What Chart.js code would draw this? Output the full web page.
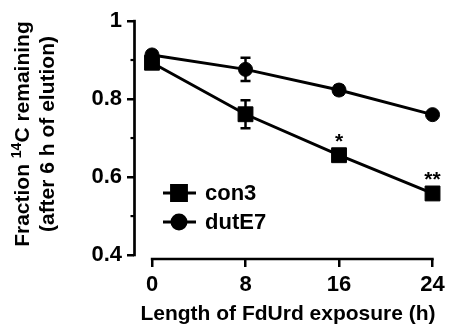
<!DOCTYPE html>
<html>
<head>
<meta charset="utf-8">
<script src="https://cdn.jsdelivr.net/npm/chart.js@4.4.1/dist/chart.umd.min.js"></script>
<style>
  html, body { margin: 0; padding: 0; background: #fff; }
</style>
</head>
<body>
<canvas id="fracChart" width="461" height="330"></canvas>
<script>
// values
const hours = [0, 8, 16, 24];
const con3 = [0.893, 0.761, 0.656, 0.558];
const con3Err = [0.01, 0.036, 0.012, 0.01];
const dutE7 = [0.913, 0.876, 0.823, 0.76];
const dutE7Err = [0.008, 0.03, 0.012, 0.008];
const con3Marks = ['', '', '*', '**'];
const seriesNames = ['con3', 'dutE7'];
const xTicks = [0, 8, 16, 24];
const yTicks = [0.4, 0.6, 0.8, 1];
const yMinorTicks = [0.5, 0.7, 0.9];

const FONT = '"Liberation Sans", Arial, Helvetica, sans-serif';
const errors = [con3Err, dutE7Err];

function toPoints(ys) {
    return hours.map((h, i) => ({ x: h, y: ys[i] }));
}

// axis lines, minor ticks, y title, legend, error bars, asterisks
const extrasPlugin = {
    id: 'extras',
    beforeDatasetsDraw(chart) {
        const ctx = chart.ctx;
        const ys = chart.scales.y;
        ctx.save();
        ctx.strokeStyle = '#000';
        ctx.lineWidth = 2.5;
        chart.data.datasets.forEach((ds, di) => {
            const meta = chart.getDatasetMeta(di);
            meta.data.forEach((pt, i) => {
                const v = ds.data[i].y, e = errors[di][i];
                const y1 = ys.getPixelForValue(v + e), y2 = ys.getPixelForValue(v - e);
                ctx.beginPath();
                ctx.moveTo(pt.x, y1); ctx.lineTo(pt.x, y2);
                ctx.moveTo(pt.x - 5, y1); ctx.lineTo(pt.x + 5, y1);
                ctx.moveTo(pt.x - 5, y2); ctx.lineTo(pt.x + 5, y2);
                ctx.stroke();
            });
        });
        ctx.restore();
    },
    afterDraw(chart) {
        const ctx = chart.ctx;
        const area = chart.chartArea;
        const xs = chart.scales.x, ys = chart.scales.y;
        ctx.save();
        ctx.strokeStyle = '#000';
        ctx.fillStyle = '#000';
        ctx.lineWidth = 2.7;
        ctx.lineCap = 'butt';

        // y axis line (0.4 .. 1)
        ctx.beginPath();
        ctx.moveTo(area.left + 0.5, ys.getPixelForValue(1) - 1.2);
        ctx.lineTo(area.left + 0.5, ys.getPixelForValue(0.4) + 1.2);
        ctx.stroke();
        // x axis line (0 .. 24)
        ctx.beginPath();
        ctx.moveTo(xs.getPixelForValue(0) - 1.2, area.bottom);
        ctx.lineTo(xs.getPixelForValue(24) + 1.2, area.bottom);
        ctx.stroke();
        // minor y ticks
        ctx.lineWidth = 2.2;
        yMinorTicks.forEach(v => {
            const y = ys.getPixelForValue(v);
            ctx.beginPath();
            ctx.moveTo(area.left - 3.5, y);
            ctx.lineTo(area.left, y);
            ctx.stroke();
        });

        // asterisks over con3
        ctx.font = 'bold 21px ' + FONT;
        ctx.textAlign = 'center';
        ctx.textBaseline = 'alphabetic';
        const meta0 = chart.getDatasetMeta(0);
        meta0.data.forEach((pt, i) => {
            if (con3Marks[i]) ctx.fillText(con3Marks[i], pt.x, pt.y - 7);
        });

        // legend
        const legendY = [area.top + 172, area.top + 201];
        chart.data.datasets.forEach((ds, di) => {
            const y = legendY[di];
            ctx.lineWidth = 3;
            ctx.beginPath();
            ctx.moveTo(area.left + 29, y);
            ctx.lineTo(area.left + 62, y);
            ctx.stroke();
            Chart.helpers.drawPoint(ctx, {
                pointStyle: ds.pointStyle,
                radius: ds.pointRadius,
                rotation: 0,
                borderWidth: ds.pointBorderWidth
            }, area.left + 45, y);
            ctx.fill();
            ctx.textAlign = 'left';
            ctx.textBaseline = 'middle';
            ctx.font = 'bold 22px ' + FONT;
            ctx.fillText(seriesNames[di], area.left + 71, y + 1);
        });

        // y title with superscript
        const cy = (ys.getPixelForValue(1) + ys.getPixelForValue(0.4)) / 2 - 4;
        const big = 'bold 21px ' + FONT, small = 'bold 14px ' + FONT;
        ctx.textAlign = 'left';
        ctx.textBaseline = 'alphabetic';
        // line 1
        ctx.save();
        ctx.translate(29, cy);
        ctx.rotate(-Math.PI / 2);
        const parts = [['Fraction ', big, 0], ['14', small, -8], ['C remaining', big, 0]];
        let total = 0;
        parts.forEach(p => { ctx.font = p[1]; total += ctx.measureText(p[0]).width; });
        let px = -total / 2;
        parts.forEach(p => {
            ctx.font = p[1];
            ctx.fillText(p[0], px, p[2]);
            px += ctx.measureText(p[0]).width;
        });
        ctx.restore();
        // line 2
        ctx.save();
        ctx.translate(54, cy);
        ctx.rotate(-Math.PI / 2);
        ctx.font = big;
        ctx.textAlign = 'center';
        ctx.fillText('(after 6 h of elution)', 0, 0);
        ctx.restore();

        ctx.restore();
    }
};

const ctx = document.getElementById('fracChart').getContext('2d');
const fracChart = new Chart(ctx, {
    type: 'scatter',
    data: {
        datasets: [{
            label: seriesNames[0],
            data: toPoints(con3),
            showLine: true,
            borderColor: '#000',
            backgroundColor: '#000',
            borderWidth: 3,
            pointStyle: 'rect',
            pointRadius: 10.5,
            pointBorderWidth: 1,
            pointBackgroundColor: '#000',
            pointBorderColor: '#000'
        }, {
            label: seriesNames[1],
            data: toPoints(dutE7),
            showLine: true,
            borderColor: '#000',
            backgroundColor: '#000',
            borderWidth: 3,
            pointStyle: 'circle',
            pointRadius: 7,
            pointBorderWidth: 1,
            pointBackgroundColor: '#000',
            pointBorderColor: '#000'
        }]
    },
    options: {
        responsive: false,
        animation: false,
        layout: { padding: { top: 21, right: 19, left: 0, bottom: 0 } },
        plugins: { legend: { display: false }, tooltip: { enabled: false } },
        scales: {
            x: {
                type: 'linear',
                min: -1.54,
                max: 24.81,
                afterBuildTicks: s => { s.ticks = xTicks.map(v => ({ value: v })); },
                afterFit: s => { s.height = 71; },
                grid: { drawOnChartArea: false, drawTicks: true, tickLength: 8, color: '#000', lineWidth: 2.5 },
                border: { display: false },
                ticks: {
                    color: '#000',
                    font: { family: FONT, size: 22, weight: 'bold' },
                    padding: 5,
                    maxRotation: 0,
                    autoSkip: false
                },
                title: {
                    display: true,
                    text: 'Length of FdUrd exposure (h)',
                    color: '#000',
                    font: { family: FONT, size: 21, weight: 'bold' },
                    padding: { top: 0, bottom: 3 }
                }
            },
            y: {
                min: 0.39,
                max: 1,
                afterBuildTicks: s => { s.ticks = yTicks.map(v => ({ value: v })); },
                afterFit: s => { s.width = 134; },
                grid: { drawOnChartArea: false, drawTicks: true, tickLength: 7, color: '#000', lineWidth: 2.5 },
                border: { display: false },
                ticks: {
                    color: '#000',
                    font: { family: FONT, size: 22, weight: 'bold' },
                    padding: 5,
                    callback: v => v === 1 ? '1' : v.toFixed(1)
                }
            }
        }
    },
    plugins: [extrasPlugin]
});
</script>
</body>
</html>
